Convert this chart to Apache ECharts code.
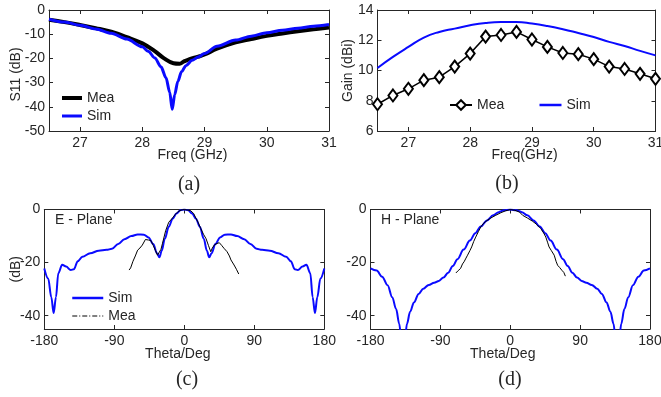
<!DOCTYPE html>
<html>
<head>
<meta charset="utf-8">
<script src="https://cdn.jsdelivr.net/npm/echarts@6/dist/echarts.min.js"></script>
<style>
  html, body { margin: 0; background: #fff; }
  #chart { width: 661px; height: 397px; }
</style>
</head>
<body>
<div id="chart"></div>
<script>
// (a) S11 vs frequency
const fMeaA = [26.5, 26.75, 27, 27.25, 27.5, 27.75, 28, 28.2, 28.35, 28.5, 28.6, 28.66, 28.76, 28.9, 29, 29.2, 29.5, 29.75, 30, 30.25, 30.5, 30.75, 31];
const s11Mea = [-4, -5, -6.2, -7.5, -9, -11.2, -13.8, -17, -20, -22, -22.2, -21.4, -20.3, -19.3, -18.4, -16, -13.4, -12, -10.7, -9.7, -8.8, -8, -7.2];
const fSimA = [26.5, 26.75, 27, 27.25, 27.5, 27.75, 28, 28.1, 28.2, 28.3, 28.38, 28.44, 28.48, 28.52, 28.57, 28.63, 28.7, 28.8, 28.9, 29, 29.2, 29.5, 29.75, 30, 30.25, 30.5, 30.75, 31];
const s11Sim = [-3.8, -5, -6.3, -7.8, -9.6, -12, -15.2, -17.2, -19.8, -23.5, -28, -34, -41, -35, -29.5, -25.5, -23, -20.8, -19.4, -18, -15, -12.4, -10.8, -9.4, -8.4, -7.5, -6.7, -6];

// (b) gain vs frequency
const fGainMea = [26.5, 26.75, 27, 27.25, 27.5, 27.75, 28, 28.25, 28.5, 28.75, 29, 29.25, 29.5, 29.75, 30, 30.25, 30.5, 30.75, 31];
const gainMea = [7.77, 8.35, 8.79, 9.36, 9.56, 10.26, 11.12, 12.24, 12.35, 12.55, 12.05, 11.56, 11.16, 11.08, 10.75, 10.26, 10.1, 9.78, 9.45];
const fGainSim = [26.5, 26.75, 27, 27.25, 27.5, 27.75, 28, 28.25, 28.5, 28.75, 29, 29.25, 29.5, 29.75, 30, 30.25, 30.5, 30.75, 31];
const gainSim = [10.17, 10.9, 11.56, 12.18, 12.55, 12.77, 12.99, 13.14, 13.2, 13.2, 13.1, 12.94, 12.73, 12.48, 12.22, 11.89, 11.62, 11.3, 11.0];

// (c) E-plane pattern
const eSimTheta = [-180, -175, -171, -168, -165, -162, -157, -152, -146, -142, -137, -131, -121, -110, -100, -93, -85, -77, -68, -60, -52, -46, -40, -35, -32, -29, -25, -20, -15, -10, -5, 0,
  5, 10, 15, 20, 25, 29, 32, 35, 40, 46, 52, 60, 68, 77, 85, 93, 100, 110, 121, 131, 137, 142, 146, 152, 157, 162, 165, 168, 171, 175, 180];
const eSim = [-22.2, -26, -33, -39, -33, -24, -20.8, -21.5, -22.8, -22.5, -19.5, -17.8, -16.5, -15.5, -15.2, -14.8, -13, -11.2, -10, -9.4, -9.5, -10.5, -13, -16.5, -18, -15.5, -11, -6.5, -3.5, -1.5, -0.3, 0,
  -0.3, -1.5, -3.5, -6.5, -11, -15.5, -18, -16.5, -13, -10.5, -9.5, -9.4, -10, -11.2, -13, -14.8, -15.2, -15.5, -16.5, -17.8, -19.5, -22.5, -22.8, -21.5, -20.8, -24, -33, -39, -33, -26, -22.2];
const eMeaTheta = [-71, -69, -66, -63, -60, -57, -54, -50, -46, -43, -40, -37, -34.5, -32, -30, -28, -24, -20, -16, -12, -8, -4, 0, 4, 8, 12, 15, 18, 21, 25, 28, 31, 34, 36, 38.5, 42, 45, 48, 51, 55, 58, 60, 64, 67, 70];
const eMea = [-22.8, -22, -19.5, -17.5, -15.3, -14.5, -13.4, -11.3, -11.5, -11.7, -13.5, -15.5, -17.2, -17.5, -15, -12.7, -8, -4.8, -3.5, -2, -0.8, -0.2, 0, -0.2, -0.4, -1.5, -3.3, -5, -7.1, -9.5, -11, -13.5, -15.9, -14.5, -13.4, -12.8, -12.5, -13.5, -14.6, -15.9, -17.5, -19, -20.9, -22.5, -24.3];

// (d) H-plane pattern
const hSimTheta = [-180, -172, -165, -158, -152, -147, -143, -140, -138, -136, -133, -129, -124, -118, -112, -105, -98, -92, -86, -80, -74, -68, -60, -52, -45, -38, -30, -22, -15, -8, 0,
  8, 15, 22, 30, 38, 45, 52, 60, 68, 74, 80, 86, 92, 98, 105, 112, 118, 124, 129, 133, 136, 138, 140, 143, 147, 152, 158, 165, 172, 180];
const hSim = [-22.2, -23, -25.3, -28.5, -33, -37.5, -43, -50, -58, -50, -43, -38.5, -35, -31.8, -29.8, -28.4, -27.6, -26.9, -25.6, -23.8, -21.3, -18.7, -15.1, -11.7, -8.9, -6.4, -4.1, -2.2, -1, -0.3, 0,
  -0.3, -1, -2.2, -4.1, -6.4, -8.9, -11.7, -15.1, -18.7, -21.3, -23.8, -25.6, -26.9, -27.6, -28.4, -29.8, -31.8, -35, -38.5, -43, -50, -58, -50, -43, -37.5, -33, -28.5, -25.3, -23, -22.2];
const hMeaTheta = [-70, -67, -64, -61.5, -59.5, -57, -55, -52, -49.7, -47, -44.5, -41, -38, -35, -31.6, -25, -18.7, -12, -6, 0, 6, 12, 16, 22, 28.6, 34, 39.4, 43, 45.8, 48, 50, 53, 56.6, 59, 61, 63.5, 66.5, 69, 71];
const hMea = [-23.9, -23, -22.2, -20.5, -19.7, -18.3, -17.2, -15.5, -14.1, -12, -10.4, -8.3, -6.6, -5.4, -4.5, -3.2, -2.2, -1.2, -0.5, 0, -0.3, -1, -2.2, -3.2, -4.4, -5.6, -7.2, -8.8, -10.4, -12.3, -14.1, -15.5, -17.2, -19.5, -21, -21.8, -22.9, -23.7, -25.1];

// tick labels
const freqTicks = [27, 28, 29, 30, 31];
const s11Ticks = [-50, -40, -30, -20, -10, 0];
const gainTicks = [6, 8, 10, 12, 14];
const thetaTicks = [-180, -90, 0, 90, 180];
const patTicks = [-40, -20, 0];

const ink = '#262626';
const blue = '#0a0aff';
const font = '"Liberation Sans", Arial, sans-serif';
const serif = '"Liberation Serif", "Times New Roman", serif';

const chart = echarts.init(document.getElementById('chart'));
const zip = (xs, ys) => xs.map((x, i) => [x, ys[i]]);

// main axis + a label-less twin on the opposite side to close the box
function axes(kind, gi, min, max, ticks, name, gap, pad) {
  const line = { show: true, onZero: false, lineStyle: { color: ink, width: 1 } };
  const tick = { show: true, inside: true, length: 4, lineStyle: { color: ink }, customValues: ticks };
  const main = {
    type: 'value', gridIndex: gi, min, max,
    position: kind === 'x' ? 'bottom' : 'left',
    name, nameLocation: 'middle', nameGap: gap, nameMoveOverlap: false,
    nameTextStyle: { color: ink, fontSize: 14, fontFamily: font, padding: pad || 0 },
    axisLine: line, axisTick: tick,
    axisLabel: { color: ink, fontSize: 14, fontFamily: font, margin: kind === 'x' ? 5 : 4, customValues: ticks },
    splitLine: { show: false }
  };
  const twin = {
    type: 'value', gridIndex: gi, min, max,
    position: kind === 'x' ? 'top' : 'right',
    axisLine: line, axisTick: tick, axisLabel: { show: false }, splitLine: { show: false }
  };
  return [main, twin];
}

function curve(name, gi, data, color, width, extra) {
  return Object.assign({
    type: 'line', name, xAxisIndex: gi * 2, yAxisIndex: gi * 2, data,
    symbol: 'none', lineStyle: { color, width }, itemStyle: { color }
  }, extra || {});
}

// legend entry showing only the line, no marker
const lineOnly = (name, lineStyle) => ({
  name, lineStyle,
  itemStyle: { color: 'transparent', borderColor: 'transparent', borderWidth: 0, opacity: 0 }
});

const legendBase = {
  formatter: n => n.split('·')[0],
  textStyle: { color: ink, fontSize: 14, fontFamily: font },
  padding: 0, selectedMode: false
};

const option = {
  animation: false,
  backgroundColor: '#fff',
  grid: [
    { left: 49, top: 10, width: 280, height: 121 },
    { left: 377.5, top: 10, width: 278, height: 121 },
    { left: 44.3, top: 209.5, width: 280, height: 119.5 },
    { left: 370.5, top: 209.5, width: 279.5, height: 119.5 }
  ].map(g => Object.assign({ outerBoundsMode: 'none' }, g)),
  xAxis: [
    ...axes('x', 0, 26.5, 31, freqTicks, 'Freq (GHz)', 17, [0, 0, 0, 7]),
    ...axes('x', 1, 26.5, 31, freqTicks, 'Freq(GHz)', 17, [0, 0, 0, 16]),
    ...axes('x', 2, -180, 180, thetaTicks, 'Theta/Deg', 18, [0, 13, 0, 0]),
    ...axes('x', 3, -180, 180, thetaTicks, 'Theta/Deg', 18, [0, 15, 0, 0])
  ],
  yAxis: [
    ...axes('y', 0, -50, 0, s11Ticks, 'S11 (dB)', 26, [0, 8, 0, 0]),
    ...axes('y', 1, 6, 14, gainTicks, 'Gain (dBi)', 22),
    ...axes('y', 2, -45, 0, patTicks, '(dB)', 21),
    ...axes('y', 3, -45, 0, patTicks, '', 0)
  ],
  legend: [
    Object.assign({
      data: [lineOnly('Mea·a', { width: 4 }), lineOnly('Sim·a', { width: 3 })],
      orient: 'vertical', left: 60, top: 91, itemWidth: 20, itemHeight: 14, itemGap: 4
    }, legendBase),
    Object.assign({
      data: ['Mea·b', lineOnly('Sim·b', { width: 2.5 })],
      orient: 'horizontal', left: 449, top: 98, itemWidth: 22, itemHeight: 12, itemGap: 34
    }, legendBase),
    Object.assign({
      data: [lineOnly('Sim·c', { width: 2.5 }), lineOnly('Mea·c', { type: [5, 2, 1, 2], width: 1 })],
      orient: 'vertical', left: 71, top: 291, itemWidth: 31, itemHeight: 14, itemGap: 4
    }, legendBase)
  ],
  series: [
    curve('Mea·a', 0, zip(fMeaA, s11Mea), '#000', 4, { smooth: 0.4 }),
    curve('Sim·a', 0, zip(fSimA, s11Sim), blue, 3, { smooth: 0.3, smoothMonotone: 'x' }),
    curve('Sim·b', 1, zip(fGainSim, gainSim), blue, 2, { smooth: true }),
    curve('Mea·b', 1, zip(fGainMea, gainMea), '#000', 1.5, {
      symbol: 'emptyDiamond', symbolSize: [9, 12],
      itemStyle: { color: '#000', borderColor: '#000', borderWidth: 1.5 }
    }),
    curve('Sim·c', 2, zip(eSimTheta, eSim), blue, 2, { smooth: 0.35, smoothMonotone: 'x' }),
    curve('Mea·c', 2, zip(eMeaTheta, eMea), '#000', 1),
    curve('Sim·d', 3, zip(hSimTheta, hSim), blue, 2, { smooth: 0.35, smoothMonotone: 'x' }),
    curve('Mea·d', 3, zip(hMeaTheta, hMea), '#000', 1)
  ],
  graphic: [
    { type: 'text', x: 189, y: 185, style: { text: '(a)', font: '20px ' + serif, fill: ink, textAlign: 'center', textVerticalAlign: 'middle' } },
    { type: 'text', x: 507, y: 184, style: { text: '(b)', font: '20px ' + serif, fill: ink, textAlign: 'center', textVerticalAlign: 'middle' } },
    { type: 'text', x: 187, y: 380, style: { text: '(c)', font: '20px ' + serif, fill: ink, textAlign: 'center', textVerticalAlign: 'middle' } },
    { type: 'text', x: 510, y: 380, style: { text: '(d)', font: '20px ' + serif, fill: ink, textAlign: 'center', textVerticalAlign: 'middle' } },
    { type: 'text', x: 55, y: 220, style: { text: 'E - Plane', font: '14px ' + font, fill: ink, textAlign: 'left', textVerticalAlign: 'middle' } },
    { type: 'text', x: 381, y: 220, style: { text: 'H - Plane', font: '14px ' + font, fill: ink, textAlign: 'left', textVerticalAlign: 'middle' } }
  ]
};

chart.setOption(option);
</script>
</body>
</html>
